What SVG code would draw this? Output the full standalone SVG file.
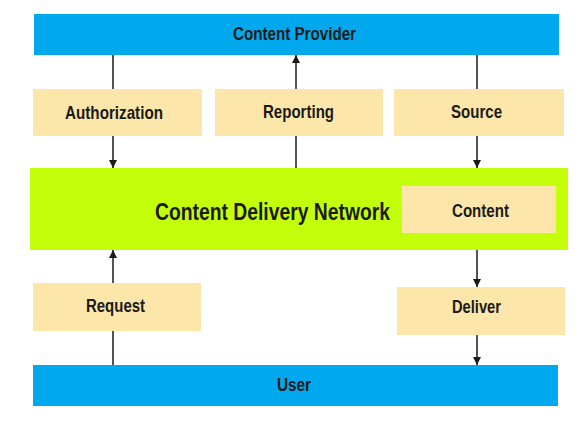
<svg xmlns="http://www.w3.org/2000/svg" width="584" height="429" viewBox="0 0 584 429">
<style>
.blue{fill:#00a9ee}
.tan{fill:#fce6a9}
.green{fill:#c3ff0a}
text{font-family:"Liberation Sans",Arial,sans-serif;font-weight:bold;fill:#1a1a1a;text-anchor:middle;dominant-baseline:central}
.lbl{font-size:19px}
.big{font-size:24px}
.ln{stroke:#1a1a1a;stroke-width:1.5;fill:none}
</style>
<defs>
<marker id="ah" viewBox="0 0 10 10" refX="10" refY="5" markerWidth="9" markerHeight="8" markerUnits="userSpaceOnUse" orient="auto">
<path d="M0,0 L10,5 L0,10 z" fill="#1a1a1a"/>
</marker>
</defs>
<rect width="584" height="429" fill="#ffffff"/>
<g id="cdn"><rect class="green" x="30" y="168" width="538" height="82"/><text class="big" x="272.5" y="211" textLength="235" lengthAdjust="spacingAndGlyphs">Content Delivery Network</text></g>
<g id="provider"><rect class="blue" x="34" y="14" width="525" height="41"/><text class="lbl" x="294.5" y="33" textLength="123" lengthAdjust="spacingAndGlyphs">Content Provider</text></g>
<g id="authorization"><rect class="tan" x="33" y="89" width="169" height="47"/><text class="lbl" x="114" y="112" textLength="98" lengthAdjust="spacingAndGlyphs">Authorization</text></g>
<g id="reporting"><rect class="tan" x="215" y="89" width="168" height="47"/><text class="lbl" x="298.5" y="111" textLength="71" lengthAdjust="spacingAndGlyphs">Reporting</text></g>
<g id="source"><rect class="tan" x="394" y="89" width="170" height="47"/><text class="lbl" x="476.5" y="111" textLength="51" lengthAdjust="spacingAndGlyphs">Source</text></g>
<g id="content"><rect class="tan" x="402" y="186" width="154" height="47"/><text class="lbl" x="480.5" y="210" textLength="57" lengthAdjust="spacingAndGlyphs">Content</text></g>
<g id="request"><rect class="tan" x="33" y="283" width="168" height="48"/><text class="lbl" x="115.5" y="305" textLength="59" lengthAdjust="spacingAndGlyphs">Request</text></g>
<g id="deliver"><rect class="tan" x="397" y="287" width="168" height="48"/><text class="lbl" x="476.5" y="306" textLength="49" lengthAdjust="spacingAndGlyphs">Deliver</text></g>
<g id="user"><rect class="blue" x="33" y="365" width="525" height="41"/><text class="lbl" x="294" y="384" textLength="34" lengthAdjust="spacingAndGlyphs">User</text></g>
<g id="connectors">
<line class="ln" x1="113" y1="55" x2="113" y2="89"/>
<line class="ln" x1="113" y1="136" x2="113" y2="168" marker-end="url(#ah)"/>
<line class="ln" x1="296" y1="168" x2="296" y2="136"/>
<line class="ln" x1="296" y1="89" x2="296" y2="55" marker-end="url(#ah)"/>
<line class="ln" x1="477" y1="55" x2="477" y2="89"/>
<line class="ln" x1="477" y1="136" x2="477" y2="168" marker-end="url(#ah)"/>
<line class="ln" x1="113" y1="365" x2="113" y2="331"/>
<line class="ln" x1="113" y1="283" x2="113" y2="250" marker-end="url(#ah)"/>
<line class="ln" x1="477" y1="250" x2="477" y2="287" marker-end="url(#ah)"/>
<line class="ln" x1="477" y1="335" x2="477" y2="365" marker-end="url(#ah)"/>
</g>
</svg>
